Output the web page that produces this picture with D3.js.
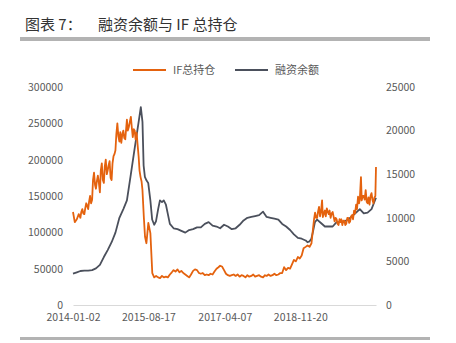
<!DOCTYPE html>
<html>
<head>
<meta charset="utf-8">
<script src="https://cdn.jsdelivr.net/npm/d3@7"></script>
<style>
  body { margin: 0; background: #fff; }
</style>
</head>
<body>
<svg width="456" height="343"></svg>
<script>
// IF 总持仓 (手), left axis
const ifOpenInterest = [
  ["2014-01-02",128000],["2014-01-16",114000],["2014-02-01",118000],["2014-02-16",125000],
  ["2014-03-01",120000],["2014-03-08",128000],["2014-03-16",132000],["2014-03-24",126000],
  ["2014-04-01",125000],["2014-04-08",133000],["2014-04-16",140000],["2014-04-24",136000],
  ["2014-05-01",132000],["2014-05-08",142000],["2014-05-16",150000],["2014-05-24",140000],
  ["2014-06-01",145000],["2014-06-08",172000],["2014-06-16",182000],["2014-06-24",165000],
  ["2014-07-01",160000],["2014-07-08",170000],["2014-07-16",178000],["2014-07-24",168000],
  ["2014-08-01",155000],["2014-08-08",185000],["2014-08-16",195000],["2014-08-24",172000],
  ["2014-09-01",168000],["2014-09-08",190000],["2014-09-16",200000],["2014-09-24",180000],
  ["2014-10-01",185000],["2014-10-08",192000],["2014-10-16",198000],["2014-10-24",175000],
  ["2014-11-01",172000],["2014-11-08",195000],["2014-11-16",205000],["2014-11-24",208000],
  ["2014-12-01",213000],["2014-12-08",235000],["2014-12-16",250000],["2014-12-24",232000],
  ["2015-01-01",225000],["2015-01-08",238000],["2015-01-16",223000],["2015-01-24",235000],
  ["2015-02-01",240000],["2015-02-08",230000],["2015-02-16",228000],["2015-02-24",245000],
  ["2015-03-01",255000],["2015-03-08",240000],["2015-03-16",245000],["2015-03-24",252000],
  ["2015-04-01",259000],["2015-04-08",245000],["2015-04-16",231000],["2015-04-24",242000],
  ["2015-05-01",240000],["2015-05-08",228000],["2015-05-16",237000],["2015-05-24",220000],
  ["2015-06-01",204000],["2015-06-08",185000],["2015-06-16",176000],["2015-06-24",170000],
  ["2015-07-01",158000],["2015-07-12",120000],["2015-07-21",94000],["2015-08-01",85000],
  ["2015-08-16",113000],["2015-09-01",99000],["2015-09-16",44000],["2015-10-01",38000],
  ["2015-10-16",40000],["2015-11-01",38000],["2015-11-16",37000],["2015-12-01",40000],
  ["2015-12-16",38000],["2016-01-01",39000],["2016-01-16",38000],["2016-02-01",42000],
  ["2016-02-16",45000],["2016-03-01",48000],["2016-03-16",46000],["2016-04-01",49000],
  ["2016-04-16",45000],["2016-05-01",47000],["2016-05-16",44000],["2016-06-01",42000],
  ["2016-06-16",40000],["2016-07-01",38000],["2016-07-16",42000],["2016-08-01",47000],
  ["2016-08-16",49000],["2016-09-01",48000],["2016-09-16",44000],["2016-10-01",43000],
  ["2016-10-16",44000],["2016-11-01",41000],["2016-11-16",42000],["2016-12-01",41000],
  ["2016-12-16",43000],["2017-01-01",42000],["2017-01-16",46000],["2017-02-01",50000],
  ["2017-02-16",52000],["2017-03-01",54000],["2017-03-16",53000],["2017-04-01",48000],
  ["2017-04-16",43000],["2017-05-01",41000],["2017-05-16",40000],["2017-06-01",41000],
  ["2017-06-16",42000],["2017-07-01",40000],["2017-07-16",42000],["2017-08-01",39000],
  ["2017-08-16",41000],["2017-09-01",40000],["2017-09-16",38000],["2017-10-01",41000],
  ["2017-10-16",39000],["2017-11-01",40000],["2017-11-16",42000],["2017-12-01",39000],
  ["2017-12-16",40000],["2018-01-01",41000],["2018-01-16",39000],["2018-02-01",38000],
  ["2018-02-16",41000],["2018-03-01",40000],["2018-03-16",42000],["2018-04-01",40000],
  ["2018-04-16",41000],["2018-05-01",43000],["2018-05-16",41000],["2018-06-01",42000],
  ["2018-06-16",44000],["2018-07-01",44000],["2018-07-16",52000],["2018-08-01",48000],
  ["2018-08-16",51000],["2018-09-01",50000],["2018-09-16",56000],["2018-10-01",62000],
  ["2018-10-16",60000],["2018-11-01",66000],["2018-11-16",64000],["2018-12-01",68000],
  ["2018-12-16",78000],["2019-01-01",80000],["2019-01-16",82000],["2019-02-01",80000],
  ["2019-02-16",85000],["2019-03-01",107000],["2019-03-08",118000],["2019-03-16",127000],
  ["2019-03-24",120000],["2019-04-01",120000],["2019-04-08",128000],["2019-04-16",135000],
  ["2019-04-24",122000],["2019-05-01",128000],["2019-05-10",144000],["2019-05-16",121000],
  ["2019-05-24",126000],["2019-06-01",130000],["2019-06-08",122000],["2019-06-16",133000],
  ["2019-06-24",128000],["2019-07-01",125000],["2019-07-08",130000],["2019-07-16",120000],
  ["2019-07-24",126000],["2019-08-01",128000],["2019-08-08",122000],["2019-08-16",115000],
  ["2019-08-24",120000],["2019-09-01",118000],["2019-09-08",112000],["2019-09-16",110000],
  ["2019-09-24",118000],["2019-10-01",114000],["2019-10-08",118000],["2019-10-16",110000],
  ["2019-10-24",116000],["2019-11-01",116000],["2019-11-08",110000],["2019-11-16",112000],
  ["2019-11-24",120000],["2019-12-01",120000],["2019-12-08",113000],["2019-12-16",115000],
  ["2019-12-24",122000],["2020-01-01",124000],["2020-01-08",118000],["2020-01-16",130000],
  ["2020-01-24",126000],["2020-02-01",138000],["2020-02-08",132000],["2020-02-16",149000],
  ["2020-02-24",140000],["2020-03-01",145000],["2020-03-10",176000],["2020-03-16",144000],
  ["2020-03-24",150000],["2020-04-01",150000],["2020-04-08",145000],["2020-04-16",158000],
  ["2020-04-24",142000],["2020-05-01",140000],["2020-05-08",148000],["2020-05-16",138000],
  ["2020-05-24",150000],["2020-06-01",154000],["2020-06-08",145000],["2020-06-16",140000],
  ["2020-06-24",148000],["2020-07-01",150000],["2020-07-06",190000]
];

// 融资余额 (亿元), right axis
const marginBalance = [
  ["2014-01-02",3600],["2014-02-01",3750],["2014-03-01",3900],["2014-04-01",3950],
  ["2014-05-01",3950],["2014-06-01",4000],["2014-07-01",4200],["2014-08-01",4600],
  ["2014-09-01",5500],["2014-10-01",6300],["2014-11-01",7200],["2014-12-01",8300],
  ["2015-01-01",10000],["2015-02-01",11000],["2015-03-01",12000],["2015-04-01",15000],
  ["2015-05-01",18000],["2015-06-01",21000],["2015-06-18",22700],["2015-07-01",21000],
  ["2015-07-10",16000],["2015-07-20",14700],["2015-08-01",14300],["2015-08-15",14000],
  ["2015-09-01",12000],["2015-09-15",9800],["2015-10-01",9200],["2015-10-15",9600],
  ["2015-11-01",11000],["2015-11-15",12000],["2015-12-01",11800],["2015-12-15",12000],
  ["2016-01-01",11500],["2016-01-15",10500],["2016-02-01",9300],["2016-03-01",8800],
  ["2016-04-01",8700],["2016-05-01",8500],["2016-06-01",8300],["2016-07-01",8600],
  ["2016-08-01",8700],["2016-09-01",8900],["2016-10-01",8900],["2016-11-01",9300],
  ["2016-12-01",9500],["2017-01-01",9100],["2017-02-01",9000],["2017-03-01",8800],
  ["2017-04-01",9200],["2017-05-01",9000],["2017-06-01",8700],["2017-07-01",8800],
  ["2017-08-01",9200],["2017-09-01",9700],["2017-10-01",10000],["2017-11-01",10100],
  ["2017-12-01",10200],["2018-01-01",10300],["2018-02-01",10700],["2018-03-01",10100],
  ["2018-04-01",10000],["2018-05-01",9900],["2018-06-01",9800],["2018-07-01",9300],
  ["2018-08-01",9000],["2018-09-01",8600],["2018-10-01",8100],["2018-11-01",7700],
  ["2018-12-01",7600],["2019-01-01",7400],["2019-01-15",7200],["2019-02-01",7300],
  ["2019-02-15",7600],["2019-03-01",8500],["2019-03-15",9500],["2019-04-01",9800],
  ["2019-05-01",9400],["2019-06-01",9000],["2019-07-01",9000],["2019-08-01",9000],
  ["2019-09-01",9500],["2019-10-01",9500],["2019-11-01",9600],["2019-12-01",9800],
  ["2020-01-01",10200],["2020-02-01",10600],["2020-03-01",11000],["2020-04-01",10500],
  ["2020-05-01",10600],["2020-06-01",11000],["2020-07-06",12300]
];

const xTicks = ["2014-01-02", "2015-08-17", "2017-04-07", "2018-11-20"];
const leftTicks = [0, 50000, 100000, 150000, 200000, 250000, 300000];
const rightTicks = [0, 5000, 10000, 15000, 20000, 25000];
const seriesNames = ["IF总持仓", "融资余额"];
const colors = ["#e4620e", "#4b505c"];

const svg = d3.select("svg");
const parse = d3.timeParse("%Y-%m-%d");
const cjk = "'Noto Sans CJK SC', sans-serif";

const margin = { top: 87, left: 73 };
const innerWidth = 376 - margin.left;
const innerHeight = 305 - margin.top;

// title + rules
svg.append("text")
  .attr("x", 25).attr("y", 30)
  .style("font-family", cjk).attr("font-size", 15).attr("fill", "#333")
  .text("图表 7：");
svg.append("text")
  .attr("x", 98).attr("y", 30)
  .style("font-family", cjk).attr("font-size", 15).attr("fill", "#333")
  .text("融资余额与 IF 总持仓");
svg.append("rect").attr("x", 20).attr("y", 37).attr("width", 410).attr("height", 4).attr("fill", "#b3b3b3");
svg.append("rect").attr("x", 20).attr("y", 337).attr("width", 410).attr("height", 3).attr("fill", "#b3b3b3");

const x = d3.scaleTime()
  .domain([parse("2014-01-02"), parse("2020-07-06")])
  .range([0, innerWidth]);
const yLeft = d3.scaleLinear().domain([0, 300000]).range([innerHeight, 0]);
const yRight = d3.scaleLinear().domain([0, 25000]).range([innerHeight, 0]);

const g = svg.append("g").attr("transform", `translate(${margin.left},${margin.top})`);

const xAxisG = g.append("g")
  .attr("transform", `translate(0,${innerHeight})`)
  .call(d3.axisBottom(x).tickValues(xTicks.map(parse)).tickFormat(d3.timeFormat("%Y-%m-%d")).tickSize(0).tickPadding(9));
xAxisG.select(".domain").attr("stroke", "#d9d9d9");

const yLeftG = g.append("g")
  .call(d3.axisLeft(yLeft).tickValues(leftTicks).tickFormat(d3.format("d")).tickSize(0).tickPadding(10));
yLeftG.select(".domain").remove();

const yRightG = g.append("g")
  .attr("transform", `translate(${innerWidth},0)`)
  .call(d3.axisRight(yRight).tickValues(rightTicks).tickFormat(d3.format("d")).tickSize(0).tickPadding(10));
yRightG.select(".domain").remove();

svg.selectAll(".tick text")
  .style("font-family", cjk)
  .attr("font-size", 10.5)
  .attr("fill", "#595959");

const marginLine = d3.line()
  .x(d => x(parse(d[0])))
  .y(d => yRight(d[1]));
const ifLine = d3.line()
  .x(d => x(parse(d[0])))
  .y(d => yLeft(d[1]));

g.append("path")
  .datum(marginBalance)
  .attr("fill", "none")
  .attr("stroke", colors[1])
  .attr("stroke-width", 1.8)
  .attr("stroke-linejoin", "round")
  .attr("d", marginLine);

g.append("path")
  .datum(ifOpenInterest)
  .attr("fill", "none")
  .attr("stroke", colors[0])
  .attr("stroke-width", 1.8)
  .attr("stroke-linejoin", "round")
  .attr("d", ifLine);

// legend
const legend = svg.append("g").attr("transform", "translate(133,70)");
const legendX = [0, 102];
seriesNames.forEach((name, i) => {
  legend.append("line")
    .attr("x1", legendX[i]).attr("x2", legendX[i] + 33)
    .attr("y1", 0).attr("y2", 0)
    .attr("stroke", colors[i]).attr("stroke-width", 2);
  legend.append("text")
    .attr("x", legendX[i] + 40).attr("y", 4)
    .style("font-family", cjk)
    .attr("font-size", 11).attr("fill", "#595959")
    .text(name);
});
</script>
</body>
</html>
